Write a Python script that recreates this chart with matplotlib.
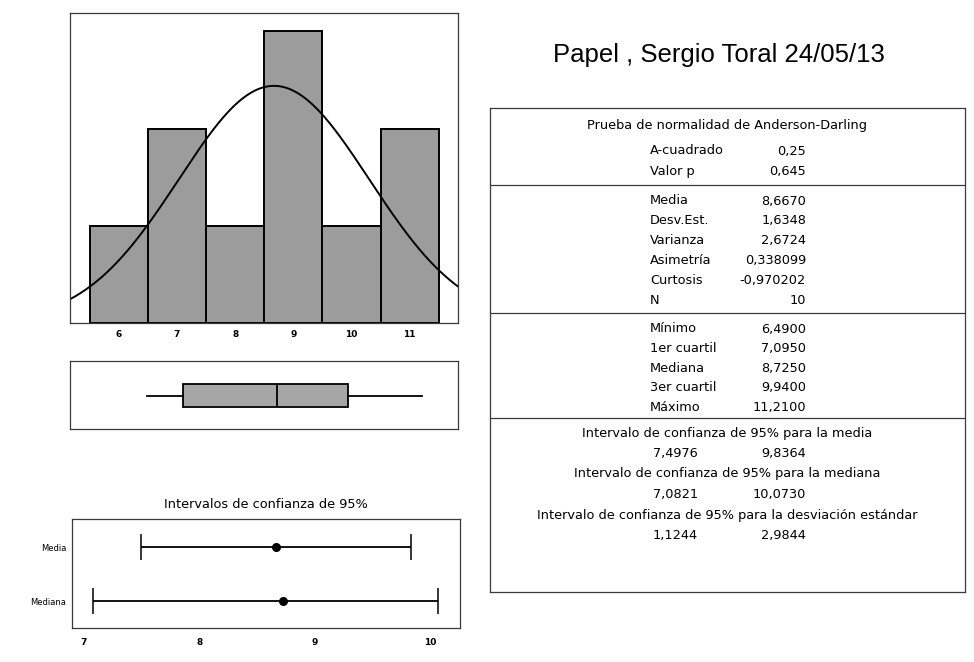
import numpy as np
import matplotlib
matplotlib.use('Agg')
import matplotlib.pyplot as plt

# datos del resumen grafico (Minitab)
bin_centers = [6, 7, 8, 9, 10, 11]
counts = [1, 2, 1, 3, 1, 2]
hist_ticks = [6, 7, 8, 9, 10, 11]

media = 8.6670
desv_est = 1.6348
n_datos = 10

box_min = 6.49
box_q1 = 7.095
box_med = 8.725
box_q3 = 9.94
box_max = 11.21

ci_labels = ['Media', 'Mediana']
ci_centers = [8.667, 8.725]
ci_low = [7.4976, 7.0821]
ci_high = [9.8364, 10.0730]
ci_ticks = [7, 8, 9, 10]

titulo = 'Papel , Sergio Toral 24/05/13'
ad_titulo = 'Prueba de normalidad de Anderson-Darling'
ad_labels = ['A-cuadrado', 'Valor p']
ad_values = ['0,25', '0,645']
desc_labels = ['Media', 'Desv.Est.', 'Varianza', 'Asimetría', 'Curtosis', 'N']
desc_values = ['8,6670', '1,6348', '2,6724', '0,338099', '-0,970202', '10']
cuart_labels = ['Mínimo', '1er cuartil', 'Mediana', '3er cuartil', 'Máximo']
cuart_values = ['6,4900', '7,0950', '8,7250', '9,9400', '11,2100']
ic_titulos = ['Intervalo de confianza de 95% para la media',
              'Intervalo de confianza de 95% para la mediana',
              'Intervalo de confianza de 95% para la desviación estándar']
ic_inf = ['7,4976', '7,0821', '1,1244']
ic_sup = ['9,8364', '10,0730', '2,9844']

W, H = 974, 662
FRAME = '#3a3a3a'
GRIS = '#9c9c9c'
FONT = 'DejaVu Sans'
TXT = 9.3


def px_axes(fig, x0, y0, x1, y1):
    """ejes a partir de coordenadas en pixeles (origen arriba a la izquierda)"""
    return fig.add_axes([x0 / W, 1 - y1 / H, (x1 - x0) / W, (y1 - y0) / H])


def marco(ax):
    for s in ax.spines.values():
        s.set_color(FRAME)
        s.set_linewidth(0.9)


fig = plt.figure(figsize=(W / 100, H / 100), dpi=100)
fig.patch.set_facecolor('white')

# histograma con curva normal
ax_h = px_axes(fig, 70, 13, 458, 323)
ax_h.bar(bin_centers, counts, width=1.0, color=GRIS, edgecolor='black', linewidth=1.4)
xs = np.linspace(5.16, 11.83, 300)
curva = n_datos * 1.0 / (desv_est * np.sqrt(2 * np.pi)) * np.exp(-0.5 * ((xs - media) / desv_est) ** 2)
ax_h.plot(xs, curva, color='black', linewidth=1.4)
ax_h.set_xlim(5.16, 11.83)
ax_h.set_ylim(0, 3.19)
ax_h.set_yticks([])
ax_h.set_xticks(hist_ticks)
ax_h.set_xticklabels([str(t) for t in hist_ticks], fontsize=6.5, fontweight='bold', family=FONT)
ax_h.tick_params(axis='x', length=0, pad=5)
marco(ax_h)

# diagrama de caja
ax_b = px_axes(fig, 70, 361, 458, 429)
stats = [dict(med=box_med, q1=box_q1, q3=box_q3, whislo=box_min, whishi=box_max, fliers=[])]
ax_b.bxp(stats, positions=[0.49], widths=0.34, orientation='horizontal', showcaps=False,
         patch_artist=True,
         boxprops=dict(facecolor='#a6a6a6', edgecolor='black', linewidth=1.3),
         medianprops=dict(color='black', linewidth=1.3),
         whiskerprops=dict(color='black', linewidth=1.3))
ax_b.set_xlim(5.16, 11.83)
ax_b.set_ylim(0, 1)
ax_b.set_xticks([])
ax_b.set_yticks([])
marco(ax_b)

# intervalos de confianza
ax_c = px_axes(fig, 72, 519, 460, 628)
ypos = [1, 0]
for y, c, lo, hi in zip(ypos, ci_centers, ci_low, ci_high):
    ax_c.errorbar([c], [y], xerr=[[c - lo], [hi - c]], fmt='o', color='black',
                  markersize=5.5, elinewidth=1.3, capsize=9.5, capthick=1.1)
ax_c.set_xlim(6.896, 10.26)
ax_c.set_ylim(-0.5, 1.52)
ax_c.set_xticks(ci_ticks)
ax_c.set_xticklabels([str(t) for t in ci_ticks], fontsize=6.5, fontweight='bold', family=FONT)
ax_c.set_yticks(ypos)
ax_c.set_yticklabels(ci_labels, fontsize=6, family=FONT)
ax_c.tick_params(axis='both', length=0)
ax_c.tick_params(axis='x', pad=7)
ax_c.tick_params(axis='y', pad=4)
marco(ax_c)
fig.text(266 / W, 1 - 505 / H, 'Intervalos de confianza de 95%', ha='center', va='center',
         fontsize=TXT, family=FONT)

# titulo
fig.text(719 / W, 1 - 55 / H, titulo, ha='center', va='center', fontsize=18.5,
         family='Liberation Sans')

# tabla de estadisticos
ax_t = px_axes(fig, 490, 108, 965, 592)
ax_t.set_xlim(490, 965)
ax_t.set_ylim(592, 108)
ax_t.set_xticks([])
ax_t.set_yticks([])
marco(ax_t)

x_lab, x_val, x_mid = 650, 806, 727


def fila(y, lab, val):
    ax_t.text(x_lab, y, lab, ha='left', va='center', fontsize=TXT, family=FONT)
    ax_t.text(x_val, y, val, ha='right', va='center', fontsize=TXT, family=FONT)


ax_t.text(x_mid, 126, ad_titulo, ha='center', va='center', fontsize=TXT, family=FONT)
for i, (l, v) in enumerate(zip(ad_labels, ad_values)):
    fila(151 + 20 * i, l, v)
ax_t.axhline(185, color=FRAME, linewidth=0.9)
for i, (l, v) in enumerate(zip(desc_labels, desc_values)):
    fila(201 + 19.8 * i, l, v)
ax_t.axhline(313, color=FRAME, linewidth=0.9)
for i, (l, v) in enumerate(zip(cuart_labels, cuart_values)):
    fila(329 + 19.6 * i, l, v)
ax_t.axhline(418, color=FRAME, linewidth=0.9)
for i, (t, lo, hi) in enumerate(zip(ic_titulos, ic_inf, ic_sup)):
    y0 = 433 + 41 * i
    ax_t.text(x_mid, y0, t, ha='center', va='center', fontsize=TXT, family=FONT)
    ax_t.text(698, y0 + 20.5, lo, ha='right', va='center', fontsize=TXT, family=FONT)
    ax_t.text(806, y0 + 20.5, hi, ha='right', va='center', fontsize=TXT, family=FONT)

fig.savefig('out.png', dpi=100)
